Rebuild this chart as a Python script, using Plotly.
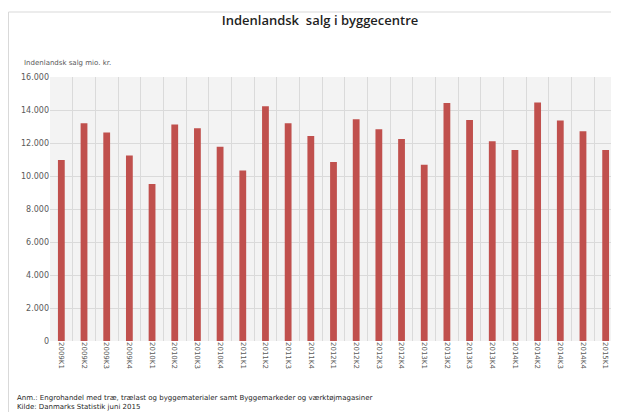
import plotly.graph_objects as go

# Data (mio. kr.)
QUARTERS = [
    "2009K1", "2009K2", "2009K3", "2009K4",
    "2010K1", "2010K2", "2010K3", "2010K4",
    "2011K1", "2011K2", "2011K3", "2011K4",
    "2012K1", "2012K2", "2012K3", "2012K4",
    "2013K1", "2013K2", "2013K3", "2013K4",
    "2014K1", "2014K2", "2014K3", "2014K4",
    "2015K1",
]
SALES = [
    10970, 13200, 12640, 11240,
    9520, 13120, 12900, 11770,
    10340, 14220, 13200, 12430,
    10850, 13440, 12840, 12240,
    10680, 14420, 13400, 12100,
    11570, 14450, 13360, 12710,
    11580,
]
Y_TICKS = [0, 2000, 4000, 6000, 8000, 10000, 12000, 14000, 16000]

TITLE = "Indenlandsk  salg i byggecentre"
Y_TITLE = "Indenlandsk salg mio. kr."
NOTE = ("Anm.: Engrohandel med træ, trælast og byggematerialer samt "
        "Byggemarkeder og værktøjmagasiner<br>Kilde: Danmarks Statistik juni 2015")

BAR = "#c0504d"
GRID = "#dadada"
TEXT = "#595959"
FONT = "DejaVu Sans"

# the page body adds an 8 px margin, so the figure itself is 8 px smaller
W, H = 611, 404
L, R, T, B = 42, 2, 69, 71
PH = H - T - B
PW = W - L - R


def px_x(x):
    return (x - L) / PW


def px_y(y):
    return (H - B - y) / PH


fig = go.Figure()
fig.add_bar(x=QUARTERS, y=SALES, marker=dict(color=BAR, line=dict(width=0)),
            width=0.3, hoverinfo="x+y")

fig.update_layout(
    width=W, height=H,
    margin=dict(l=L, r=R, t=T, b=B, autoexpand=False),
    paper_bgcolor="white",
    plot_bgcolor="#f3f3f3",
    separators=",.",
    showlegend=False,
    font=dict(family=FONT, color=TEXT, size=8),
    title=dict(text=TITLE, x=312 / W, xanchor="center", y=1 - 12 / H, yanchor="middle",
               font=dict(family="Open Sans", size=13, color="#1f1f1f", weight=600)),
)
fig.update_xaxes(
    type="category", tickangle=90, tickson="boundaries", automargin=False,
    range=[-0.5, len(QUARTERS) - 0.5],
    showgrid=True, gridcolor=GRID, gridwidth=1,
    ticks="", showline=False, tickfont=dict(size=7, color=TEXT),
)
fig.update_yaxes(
    range=[0, 16000], tickvals=Y_TICKS, tickformat=",d", automargin=False,
    showgrid=True, gridcolor=GRID, zeroline=False, showline=False,
    ticks="", tickfont=dict(size=8, color=TEXT),
)

# y-axis title above the axis
fig.add_annotation(text=Y_TITLE, xref="paper", yref="paper",
                   x=px_x(14), y=px_y(55), xanchor="left", yanchor="middle",
                   showarrow=False, font=dict(size=7, color=TEXT))
# footnote
fig.add_annotation(text=NOTE, xref="paper", yref="paper", align="left",
                   x=px_x(7), y=px_y(394), xanchor="left", yanchor="middle",
                   showarrow=False, font=dict(size=7, color="#1f1f1f"))
# frame around the chart
fig.add_shape(type="rect", xref="paper", yref="paper",
              x0=px_x(0.5), x1=px_x(609), y0=px_y(420), y1=px_y(4),
              line=dict(color="#d9d9d9", width=1), fillcolor="rgba(0,0,0,0)", layer="below")

fig.write_html("out.html")
